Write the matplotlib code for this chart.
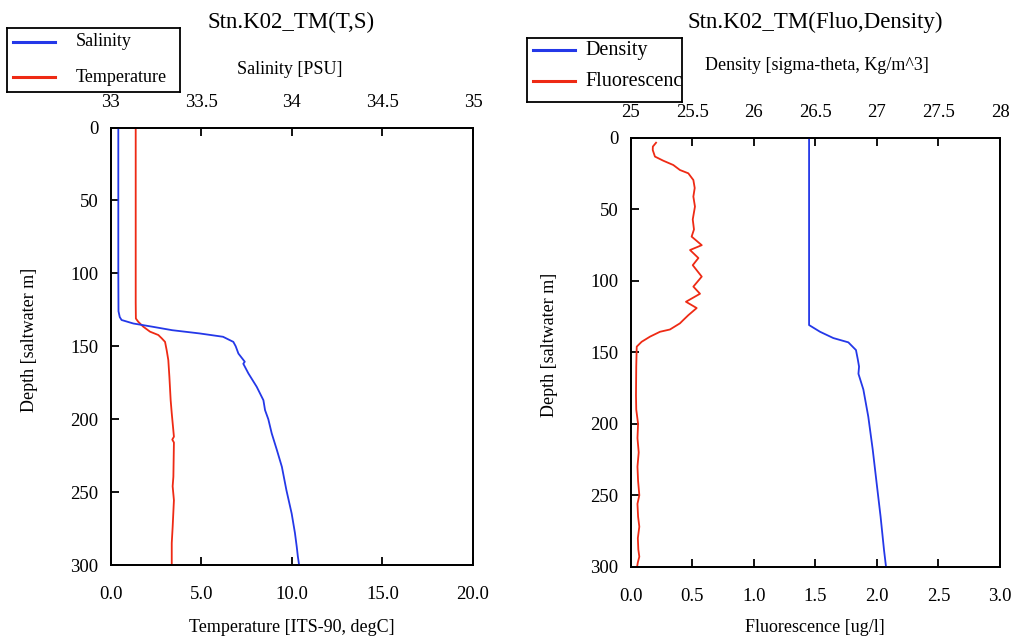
import matplotlib.pyplot as plt

# CTD profile, station K02_TM
sal_depth = [0, 20, 60, 100, 126, 130, 132, 134.4, 136.6, 139, 141.2, 143.5, 147, 150, 155,
             160.6, 162, 168.6, 177.8, 187, 193.8, 200, 209.8, 221, 232.7, 248.7, 264.7,
             278, 287.5, 294, 300]
salinity = [33.042, 33.042, 33.042, 33.042, 33.043, 33.05, 33.06, 33.125, 33.23, 33.34,
            33.49, 33.62, 33.677, 33.69, 33.705, 33.74, 33.732, 33.76, 33.806, 33.843,
            33.852, 33.87, 33.889, 33.917, 33.945, 33.97, 33.999, 34.017, 34.027, 34.033,
            34.04]

temp_depth = [0, 40, 80, 120, 131, 133.2, 136.6, 140, 142.3, 144.6, 147, 152.7, 159.5, 171,
              187, 196, 212, 214, 216, 239.5, 246, 255.6, 273.9, 285, 300]
temperature = [1.38, 1.38, 1.38, 1.38, 1.39, 1.52, 1.80, 2.17, 2.63, 2.82, 3.0, 3.09, 3.18,
               3.24, 3.31, 3.37, 3.49, 3.40, 3.49, 3.46, 3.42, 3.49, 3.42, 3.37, 3.37]

dens_depth = [0, 40, 80, 120, 130.9, 135.6, 140, 143, 148.4, 155, 160, 165, 176, 195, 218,
              241.6, 265, 288.5, 300]
density = [26.449, 26.449, 26.449, 26.449, 26.449, 26.538, 26.646, 26.768, 26.83, 26.845,
           26.855, 26.85, 26.89, 26.93, 26.966, 26.998, 27.03, 27.058, 27.074]

fluo_depth = [3.3, 6, 8.4, 13, 15.9, 18.9, 22.4, 24.7, 29.4, 35, 41, 48, 57, 64, 69, 75, 78.4,
              84, 89, 97, 104, 109, 114.6, 119, 124, 127.4, 129.7, 134, 135.6, 139, 142.6,
              146, 160, 180, 190, 200, 210, 220, 230, 240, 250, 256, 265, 272, 280, 288,
              293, 297, 300]
fluorescence = [0.206, 0.18, 0.179, 0.197, 0.265, 0.346, 0.40, 0.468, 0.509, 0.52, 0.509,
                0.522, 0.504, 0.514, 0.495, 0.577, 0.482, 0.55, 0.504, 0.577, 0.509, 0.563,
                0.449, 0.536, 0.468, 0.427, 0.40, 0.319, 0.238, 0.157, 0.089, 0.049, 0.045,
                0.043, 0.045, 0.06, 0.055, 0.065, 0.055, 0.06, 0.07, 0.055, 0.06, 0.07,
                0.058, 0.062, 0.07, 0.058, 0.052]

BLUE = '#2438e8'
RED = '#ee2a14'

plt.rcParams['font.family'] = 'Liberation Serif'
W, H = 1014, 643
fig = plt.figure(figsize=(W / 100, H / 100), dpi=100)


def px_axes(x0, y0, x1, y1):
    # axes placed by pixel corners (top-left origin)
    return fig.add_axes([x0 / W, 1 - y1 / H, (x1 - x0) / W, (y1 - y0) / H])


def style(ax, labelsize=13.5):
    ax.tick_params(direction='in', length=6, width=1.3, labelsize=labelsize)
    for s in ax.spines.values():
        s.set_linewidth(1.3)


def profile_panel(box, bot_lim, bot_ticks, bot_fmt, top_lim, top_ticks, top_fmt):
    ax = px_axes(*box)
    ax.set_ylim(300, 0)
    ax.set_yticks([0, 50, 100, 150, 200, 250, 300])
    ax.set_xlim(*bot_lim)
    ax.set_xticks(bot_ticks)
    ax.set_xticklabels([bot_fmt.format(v) for v in bot_ticks])
    style(ax)
    ax.tick_params(axis='x', pad=15)
    ax.tick_params(axis='y', pad=9)
    ax.tick_params(right=False, top=False)

    top = ax.twiny()
    top.set_xlim(*top_lim)
    top.set_xticks(top_ticks)
    top.set_xticklabels([top_fmt.format(v) for v in top_ticks])
    style(top)
    top.tick_params(axis='x', pad=12)
    return ax, top


def legend_box(box, entries, text_x, size):
    lg = px_axes(*box)
    x0, y0, x1, y1 = box
    lg.set_xlim(0, x1 - x0)
    lg.set_ylim(y1 - y0, 0)
    lg.set_xticks([])
    lg.set_yticks([])
    for s in lg.spines.values():
        s.set_linewidth(1.3)
    for (label, color, y) in entries:
        lg.plot([6, 48], [y, y], color=color, lw=2.2)
        lg.text(text_x, y, label, va='center', ha='left', fontsize=size, clip_on=True)


# left: temperature / salinity
ax1, ax1t = profile_panel((110.7, 127.5, 473, 565), (0, 20), [0, 5, 10, 15, 20], '{:.1f}',
                          (33, 35), [33, 33.5, 34, 34.5, 35], '{:g}')
ax1.plot(temperature, temp_depth, color=RED, lw=1.3)
ax1t.plot(salinity, sal_depth, color=BLUE, lw=1.3)
ax1.set_xlabel('Temperature [ITS-90, degC]', fontsize=13)
ax1.xaxis.set_label_coords(0.5, (565 - 628) / 437.5)
ax1.xaxis.label.set_va('center')
ax1t.set_xlabel('Salinity [PSU]', fontsize=13)
ax1t.xaxis.set_label_coords((290 - 110.7) / 362.3, (565 - 70) / 437.5)
ax1t.xaxis.label.set_va('center')
ax1.set_ylabel('Depth [saltwater m]', fontsize=13)
ax1.yaxis.set_label_coords((30 - 110.7) / 362.3, (565 - 340) / 437.5)
ax1.yaxis.label.set_va('center')
fig.text(291 / W, 1 - 22 / H, 'Stn.K02_TM(T,S)', ha='center', va='center', fontsize=16.5)

# right: fluorescence / density
ax2, ax2t = profile_panel((630.7, 138, 1000, 566.7), (0, 3), [0, 0.5, 1, 1.5, 2, 2.5, 3],
                          '{:.1f}', (25, 28), [25, 25.5, 26, 26.5, 27, 27.5, 28], '{:g}')
ax2.plot(fluorescence, fluo_depth, color=RED, lw=1.3)
ax2t.plot(density, dens_depth, color=BLUE, lw=1.3)
ax2.set_xlabel('Fluorescence [ug/l]', fontsize=13)
ax2.xaxis.set_label_coords((815 - 630.7) / 369.3, (566.7 - 628) / 428.7)
ax2.xaxis.label.set_va('center')
ax2t.set_xlabel('Density [sigma-theta, Kg/m^3]', fontsize=13)
ax2t.xaxis.set_label_coords((817 - 630.7) / 369.3, (566.7 - 65) / 428.7)
ax2t.xaxis.label.set_va('center')
ax2.set_ylabel('Depth [saltwater m]', fontsize=13)
ax2.yaxis.set_label_coords((550 - 630.7) / 369.3, (566.7 - 345) / 428.7)
ax2.yaxis.label.set_va('center')
fig.text(815 / W, 1 - 22 / H, 'Stn.K02_TM(Fluo,Density)', ha='center', va='center',
         fontsize=16.5)

legend_box((7, 28, 180, 92), [('Salinity', BLUE, 14), ('Temperature', RED, 49)], 69, 13)
legend_box((527, 38, 682, 102), [('Density', BLUE, 12), ('Fluorescence', RED, 43)], 58, 14.5)

fig.savefig('out.png', dpi=100)
